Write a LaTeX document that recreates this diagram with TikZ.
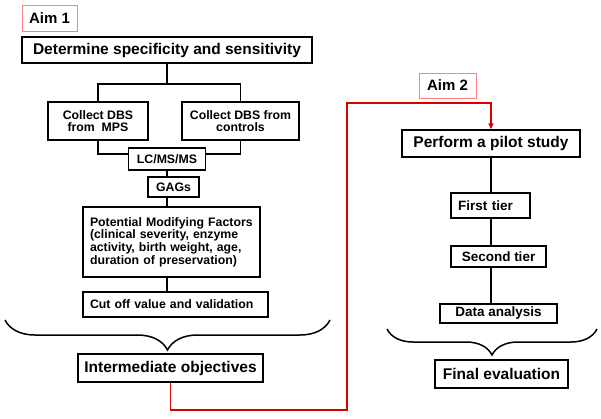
\documentclass[tikz,border=0pt]{standalone}
\usepackage{fontspec}
\setmainfont{Liberation Sans}
\usetikzlibrary{decorations.pathreplacing,arrows.meta}
\begin{document}
\begin{tikzpicture}[x=1pt,y=-1pt,
    box/.style={draw,line width=1.5pt,inner sep=0pt,align=center,font=\bfseries\fontsize{12.3}{12.6}\selectfont},
    bigbox/.style={box,font=\bfseries\fontsize{15.5}{17}\selectfont},
    tierbox/.style={box,font=\bfseries\fontsize{13.5}{15}\selectfont},
    aimbox/.style={draw=red!50,line width=0.8pt,inner sep=0pt,font=\bfseries\fontsize{15}{17}\selectfont},
    wire/.style={line width=1.5pt},
    redwire/.style={line width=1.4pt,draw=red!85!black},
    curly/.style={line width=1.5pt,decorate,decoration={brace,amplitude=#1}}]
    \useasboundingbox (0,0) rectangle (601,418);

    % Aim 1
    \node[aimbox,minimum width=55pt,minimum height=26pt] (aimA) at (49.5,18) {Aim 1};
    \node[bigbox,minimum width=290pt,minimum height=26pt] (determine) at (167,50) {Determine specificity and sensitivity};
    \node[box,minimum width=100pt,minimum height=38pt] (mps) at (98,121) {Collect DBS\\from\ \ MPS};
    \node[box,minimum width=117pt,minimum height=38pt] (controls) at (240.5,121) {Collect DBS from\\controls};
    \node[box,minimum width=77pt,minimum height=22pt] (lcms) at (167,159) {LC/MS/MS};
    \node[box,minimum width=51pt,minimum height=20pt] (gags) at (173.5,187) {GAGs};
    \node[box,text width=163pt,inner xsep=7pt,minimum height=70pt,align=left] (factors) at (171.5,242)
        {\hyphenpenalty=10000 Potential Modifying Factors\\(clinical severity, enzyme\\activity, birth weight, age,\\duration of preservation)};
    \node[box,text width=171pt,inner xsep=7pt,minimum height=25pt,align=left] (cutoff) at (175.5,304.5) {Cut off value and validation};
    \node[bigbox,minimum width=185pt,minimum height=28pt] (interm) at (170.5,368) {Intermediate objectives};

    \draw[wire] (determine.south) -- ++(0,20) coordinate (split);
    \draw[wire] (mps.north) |- (split) -| (controls.north);
    \draw[wire] (mps.south) |- ([yshift=5pt]lcms.west);
    \draw[wire] (controls.south) |- ([yshift=5pt]lcms.east);
    \draw[wire] (lcms.south) -- (lcms.south |- gags.north);
    \draw[wire] (gags.south -| lcms.south) -- (factors.north -| lcms.south);
    \draw[wire] (factors.south -| lcms.south) -- (cutoff.north -| lcms.south);
    \draw[curly=30pt] (330,320) -- (5,320);

    % Aim 2
    \node[aimbox,minimum width=57pt,minimum height=25pt] (aimB) at (447.5,85.5) {Aim 2};
    \node[bigbox,minimum width=178pt,minimum height=27pt] (pilot) at (491,143.5) {Perform a pilot study};
    \node[tierbox,text width=65pt,inner xsep=7pt,minimum height=25pt,align=left] (first) at (490.5,205.5) {First tier};
    \node[tierbox,minimum width=95pt,minimum height=21pt] (second) at (498.5,256.5) {Second tier};
    \node[tierbox,minimum width=117pt,minimum height=19pt] (data) at (498.5,313.5) {Data analysis};
    \node[bigbox,minimum width=133pt,minimum height=28pt] (final) at (501.5,374) {Final evaluation};

    \draw[wire] (pilot.south) -- (pilot.south |- first.north);
    \draw[wire] (first.south -| pilot.south) -- (second.north -| pilot.south);
    \draw[wire] (second.south -| pilot.south) -- (data.north -| pilot.south);
    \draw[curly=26pt] (597,329) -- (387,329);

    % link between the aims
    \coordinate (turnA) at (347,410);
    \coordinate (turnB) at (347,103);
    \draw[redwire,-{Triangle[length=6pt,width=5pt]}] (interm.south) |- (turnA) -- (turnB) -| (pilot.north);
\end{tikzpicture}
\end{document}
